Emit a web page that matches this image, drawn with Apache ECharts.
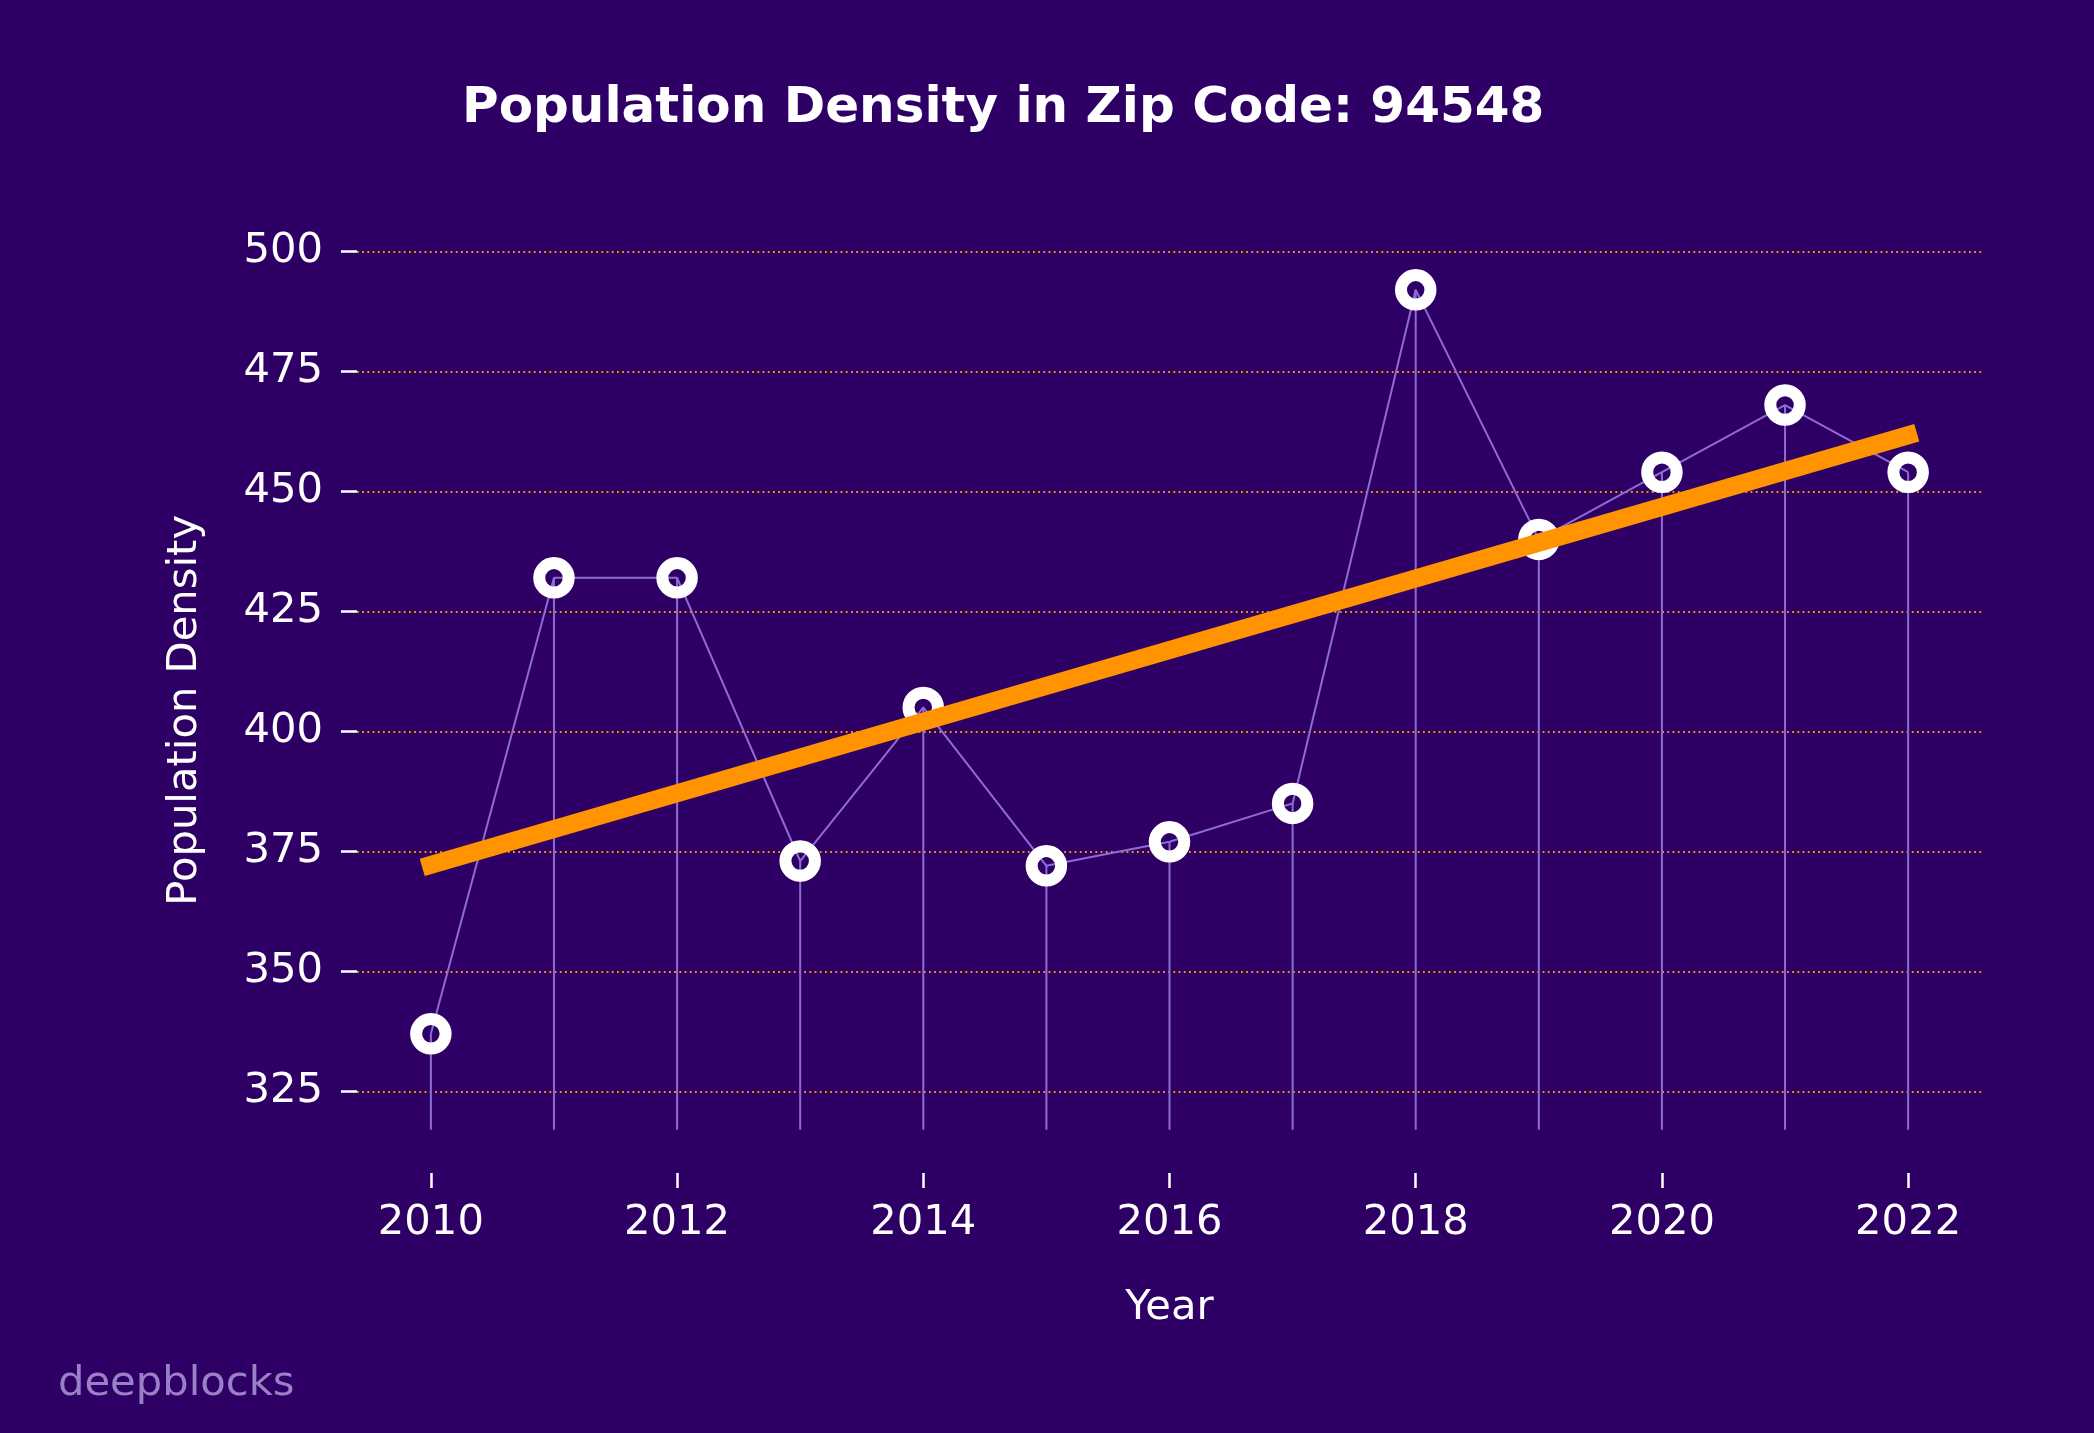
<!DOCTYPE html>
<html>
<head>
<meta charset="utf-8">
<script src="https://cdn.jsdelivr.net/npm/echarts@6/dist/echarts.min.js"></script>
<style>
html,body{margin:0;padding:0;background:#2e0066;}
#chart{width:2094px;height:1433px;}
</style>
</head>
<body>
<div id="chart"></div>
<script>
// ---- data ----
const years = [2010, 2011, 2012, 2013, 2014, 2015, 2016, 2017, 2018, 2019, 2020, 2021, 2022];
const density = [337, 432, 432, 373, 405, 372, 377, 385, 492, 440, 454, 468, 454];
const trendYears = [2010, 2022];
const trendValues = [372.2, 461.7];
const stemBase = 317;
const yTicks = [325, 350, 375, 400, 425, 450, 475, 500];
const xTicks = [2010, 2012, 2014, 2016, 2018, 2020, 2022];
const titleText = 'Population Density in Zip Code: 94548';
const xName = 'Year';
const yName = 'Population Density';
const watermark = 'deepblocks';

const FONT = 'DejaVu Sans';
const BG = '#2e0066';
const LINE = '#8c6dd3';
const ORANGE = '#ff9400';

const points = years.map((y, i) => [y, density[i]]);
const trend = trendYears.map((y, i) => [y, trendValues[i]]);

const chart = echarts.init(document.getElementById('chart'), null, {renderer: 'canvas'});
chart.setOption({
  backgroundColor: BG,
  animation: false,
  title: [
    {text: titleText, left: 462, top: 84, padding: 0,
     textStyle: {fontFamily: FONT, fontSize: 50, fontWeight: 'bold', color: '#ffffff'}},
    {text: watermark, left: 58, top: 1363, padding: 0,
     textStyle: {fontFamily: FONT, fontSize: 41.7, fontWeight: 'normal', color: '#9a80c6'}}
  ],
  grid: {left: 357, right: 112, top: 247.6, bottom: 260, containLabel: false},
  xAxis: {
    type: 'value', min: 2009.4, max: 2022.6,
    name: xName, nameLocation: 'middle', nameGap: 114,
    nameTextStyle: {fontFamily: FONT, fontSize: 41.7, color: '#ffffff'},
    axisLine: {show: false},
    axisTick: {show: true, length: 15, customValues: xTicks, lineStyle: {color: '#ffffff', width: 2.5}},
    axisLabel: {customValues: xTicks, margin: 29, fontFamily: FONT, fontSize: 41.7, color: '#ffffff',
                formatter: v => String(v)},
    splitLine: {show: false}
  },
  yAxis: {
    type: 'value', min: 308, max: 500.8,
    name: yName, nameLocation: 'middle', nameGap: 151, nameRotate: 90,
    nameTextStyle: {fontFamily: FONT, fontSize: 41.7, color: '#ffffff'},
    axisLine: {show: false},
    axisTick: {show: true, length: 16, customValues: yTicks, lineStyle: {color: '#ffffff', width: 2.5}},
    axisLabel: {customValues: yTicks, margin: 34, fontFamily: FONT, fontSize: 41.7, color: '#ffffff',
                padding: [7, 0, 0, 0], formatter: v => String(v)},
    splitLine: {show: false}
  },
  series: [
    {
      type: 'custom', z: 1, silent: true,
      data: points,
      renderItem: function (params, api) {
        const top = api.coord([api.value(0), api.value(1)]);
        const bot = api.coord([api.value(0), stemBase]);
        return {type: 'line', shape: {x1: top[0], y1: top[1], x2: bot[0], y2: bot[1]},
                style: {stroke: LINE, lineWidth: 2}};
      },
      markLine: {
        silent: true, symbol: 'none', z: 0, animation: false,
        label: {show: false},
        lineStyle: {color: ORANGE, width: 1.8, type: [1.8, 3.4], opacity: 1},
        data: yTicks.map(v => ({yAxis: v}))
      }
    },
    {
      type: 'line', z: 2, data: points, showSymbol: false, silent: true,
      lineStyle: {color: LINE, width: 2}
    },
    {
      type: 'scatter', z: 3, data: points, symbol: 'circle', symbolSize: 29.5, silent: true,
      itemStyle: {color: 'rgba(0,0,0,0)', borderColor: '#ffffff', borderWidth: 12, opacity: 1}
    },
    {
      type: 'line', z: 4, data: trend, showSymbol: false, silent: true,
      lineStyle: {color: ORANGE, width: 18, cap: 'square'}
    }
  ]
});
</script>
</body>
</html>
